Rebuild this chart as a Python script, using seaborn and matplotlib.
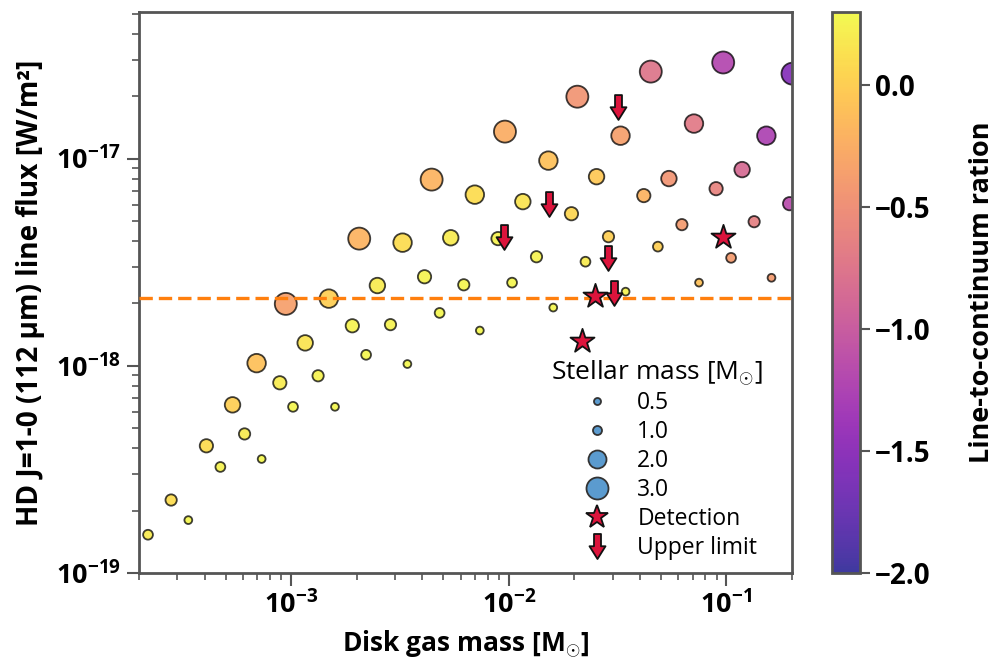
import numpy as np
import pandas as pd
import matplotlib
matplotlib.use("Agg")
import matplotlib.pyplot as plt
import seaborn as sns
from matplotlib.path import Path
from matplotlib.lines import Line2D
from matplotlib.colors import Normalize
from matplotlib.cm import ScalarMappable
from matplotlib.ticker import FuncFormatter, LogLocator, NullFormatter, FixedLocator

# ---------------- data ----------------
# model grid: one list per stellar mass [Msun]
stellar_masses = [0.5, 1.0, 1.25, 1.5, 1.75, 2.0, 3.0]

disk_mass = {
    0.5:  [3.37e-4, 7.32e-4, 1.59e-3, 3.42e-3, 7.36e-3, 1.60e-2, 3.44e-2, 7.48e-2, 1.61e-1],
    1.0:  [2.20e-4, 4.73e-4, 1.02e-3, 2.21e-3, 4.81e-3, 1.035e-2, 2.25e-2, 4.84e-2, 1.05e-1],
    1.25: [2.81e-4, 6.11e-4, 1.33e-3, 2.86e-3, 6.21e-3, 1.34e-2, 2.87e-2, 6.24e-2, 1.34e-1],
    1.5:  [4.08e-4, 8.87e-4, 1.91e-3, 4.10e-3, 8.92e-3, 1.94e-2, 4.17e-2, 8.96e-2, 1.95e-1],
    1.75: [5.38e-4, 1.16e-3, 2.49e-3, 5.41e-3, 1.16e-2, 2.53e-2, 5.44e-2, 1.18e-1],
    2.0:  [6.94e-4, 1.49e-3, 3.25e-3, 6.98e-3, 1.52e-2, 3.26e-2, 7.09e-2, 1.525e-1],
    3.0:  [9.45e-4, 2.055e-3, 4.42e-3, 9.60e-3, 2.065e-2, 4.49e-2, 9.66e-2, 2.01e-1],
}
line_flux = {
    0.5:  [1.80e-19, 3.55e-19, 6.34e-19, 1.02e-18, 1.48e-18, 1.91e-18, 2.28e-18, 2.52e-18, 2.66e-18],
    1.0:  [1.53e-19, 3.25e-19, 6.34e-19, 1.13e-18, 1.80e-18, 2.52e-18, 3.18e-18, 3.76e-18, 3.32e-18],
    1.25: [2.25e-19, 4.69e-19, 8.95e-19, 1.58e-18, 2.46e-18, 3.36e-18, 4.20e-18, 4.80e-18, 4.96e-18],
    1.5:  [4.11e-19, 8.28e-19, 1.56e-18, 2.69e-18, 4.11e-18, 5.42e-18, 6.63e-18, 7.16e-18, 6.06e-18],
    1.75: [6.48e-19, 1.29e-18, 2.44e-18, 4.15e-18, 6.20e-18, 8.18e-18, 8.01e-18, 8.85e-18],
    2.0:  [1.03e-18, 2.11e-18, 3.93e-18, 6.70e-18, 9.78e-18, 1.29e-17, 1.476e-17, 1.29e-17],
    3.0:  [1.99e-18, 4.11e-18, 7.92e-18, 1.35e-17, 1.99e-17, 2.63e-17, 2.91e-17, 2.57e-17],
}
line_to_continuum = {
    0.5:  [0.27, 0.28, 0.28, 0.28, 0.28, 0.27, 0.25, -0.10, -0.40],
    1.0:  [0.20, 0.25, 0.27, 0.27, 0.27, 0.27, 0.20, 0.00, -0.40],
    1.25: [0.10, 0.20, 0.25, 0.25, 0.27, 0.25, 0.00, -0.40, -0.65],
    1.5:  [0.10, 0.20, 0.25, 0.25, 0.25, 0.05, -0.20, -0.60, -1.15],
    1.75: [0.00, 0.15, 0.20, 0.20, 0.15, -0.05, -0.45, -0.85],
    2.0:  [-0.10, 0.00, 0.10, 0.10, -0.10, -0.35, -0.70, -1.25],
    3.0:  [-0.35, -0.20, -0.20, -0.25, -0.45, -0.75, -1.20, -1.55],
}

# observations
det_mass = [2.50e-2, 2.18e-2, 9.66e-2]
det_flux = [2.18e-18, 1.32e-18, 4.20e-18]
ul_mass = [9.50e-3, 1.53e-2, 2.87e-2, 3.05e-2, 3.16e-2]
ul_flux = [4.20e-18, 6.06e-18, 3.32e-18, 2.25e-18, 1.78e-17]

sensitivity = 2.13e-18
legend_masses = [0.5, 1.0, 2.0, 3.0]
x_ticks = [1e-3, 1e-2, 1e-1]
y_ticks = [1e-19, 1e-18, 1e-17]
cbar_ticks = [0.0, -0.5, -1.0, -1.5, -2.0]
cbar_ticklabels = ["0.0", "−0.5", "−1.0", "−1.5", "−2.0"]

# ---------------- styling ----------------
sns.set_theme(style="ticks")
plt.rcParams["font.family"] = ["Open Sans", "DejaVu Sans"]
plt.rcParams["mathtext.fontset"] = "custom"
plt.rcParams["mathtext.rm"] = "Open Sans"
plt.rcParams["mathtext.bf"] = "Open Sans:bold"
for k in ["text.color", "axes.labelcolor", "xtick.labelcolor", "ytick.labelcolor"]:
    plt.rcParams[k] = "black"

rows = []
for m in stellar_masses:
    for xm, fl, r in zip(disk_mass[m], line_flux[m], line_to_continuum[m]):
        rows.append({"mdisk": xm, "flux": fl, "mstar": m, "ratio": r})
df = pd.DataFrame(rows)

def s_of(d_px):
    return (d_px / (100 / 72)) ** 2

size_map = {0.5: s_of(7.8), 1.0: s_of(9.8), 1.25: s_of(11.3), 1.5: s_of(13.3),
            1.75: s_of(15.5), 2.0: s_of(18.5), 3.0: s_of(22)}

fig = plt.figure(figsize=(10.03, 6.66), dpi=100)
ax = fig.add_axes([139 / 1003, 1 - 573 / 666, 653 / 1003, 561 / 666])
cax = fig.add_axes([832 / 1003, 1 - 573 / 666, 28 / 1003, 561 / 666])

norm = Normalize(vmin=-2.0, vmax=0.3)
ALPHA = 0.75

sns.scatterplot(data=df, x="mdisk", y="flux", hue="ratio", size="mstar",
                sizes=size_map, palette="plasma", hue_norm=norm,
                edgecolor="black", linewidth=1.3, alpha=ALPHA,
                legend=False, ax=ax, zorder=2)

ax.set_xscale("log")
ax.set_yscale("log")
ax.set_xlim(2e-4, 0.2)
ax.set_ylim(1e-19, 5.1e-17)

ax.axhline(sensitivity, color="#ff7f0e", lw=2.4, ls=(0, (4, 1.8)), zorder=3)

# upper-limit arrow marker
arrow = Path([(-0.28, 1.0), (0.28, 1.0), (0.28, 0.02), (0.64, 0.02), (0.0, -1.0),
              (-0.64, 0.02), (-0.28, 0.02), (-0.28, 1.0)],
             [Path.MOVETO] + [Path.LINETO] * 6 + [Path.CLOSEPOLY])

sns.scatterplot(x=det_mass, y=det_flux, marker="*", s=330, color="crimson",
                edgecolor="#111111", linewidth=1.3, ax=ax, zorder=5, legend=False)
sns.scatterplot(x=ul_mass, y=ul_flux, marker=arrow, s=320, color="crimson",
                edgecolor="#111111", linewidth=1.3, ax=ax, zorder=5, legend=False)

# axes cosmetics
spine_col = "#555555"
for sp in ax.spines.values():
    sp.set_visible(True)
    sp.set_color(spine_col)
    sp.set_linewidth(2)
ax.tick_params(which="major", direction="out", length=9, width=1.5, color=spine_col,
               labelcolor="black", labelsize=19.5, pad=4, top=False, right=False)
ax.tick_params(which="minor", direction="out", length=5, width=1.2, color=spine_col,
               top=False, right=False)
fmt = FuncFormatter(lambda v, p: r"$\mathbf{10^{%d}}$" % int(round(np.log10(v))))
ax.xaxis.set_major_locator(FixedLocator(x_ticks))
ax.yaxis.set_major_locator(FixedLocator(y_ticks))
ax.xaxis.set_minor_locator(LogLocator(base=10, subs=np.arange(2, 10), numticks=20))
ax.yaxis.set_minor_locator(LogLocator(base=10, subs=np.arange(2, 10), numticks=20))
ax.xaxis.set_major_formatter(fmt)
ax.yaxis.set_major_formatter(fmt)
ax.xaxis.set_minor_formatter(NullFormatter())
ax.yaxis.set_minor_formatter(NullFormatter())

ax.set_xlabel(r"Disk gas mass [M$_{\odot}$]", fontsize=19, fontweight="bold",
              labelpad=6, color="black")
ax.set_ylabel("HD J=1-0 (112 μm) line flux [W/m²]", fontsize=20.2, fontweight="bold",
              labelpad=8, color="black")

# colorbar
sm = ScalarMappable(norm=norm, cmap="plasma")
cb = fig.colorbar(sm, cax=cax, alpha=0.8)
cb.set_ticks(cbar_ticks)
cb.set_ticklabels(cbar_ticklabels)
cb.outline.set_edgecolor(spine_col)
cb.outline.set_linewidth(2)
cax.tick_params(direction="out", length=7, width=1.5, color=spine_col,
                labelcolor="black", labelsize=20)
for t in cax.get_yticklabels():
    t.set_fontweight("bold")
cb.set_label("Line-to-continuum ration", fontsize=19.5, fontweight="bold",
             labelpad=28, color="black")

# legend (title as separate text so entries can be placed like the reference)
leg_col = "#5b9bcf"
handles = []
labels = []
for m, d in zip(legend_masses, [7, 9, 18, 22]):
    handles.append(Line2D([], [], ls="", marker="o", markersize=d / (100 / 72),
                          markerfacecolor=leg_col, markeredgecolor="#333333",
                          markeredgewidth=1.3))
    labels.append(f"{m:.1f}")
handles.append(Line2D([], [], ls="", marker="*", markersize=17, markerfacecolor="crimson",
                      markeredgecolor="#111111", markeredgewidth=1.3))
labels.append("Detection")
handles.append(Line2D([], [], ls="", marker=arrow, markersize=18, markerfacecolor="crimson",
                      markeredgecolor="#111111", markeredgewidth=1.3))
labels.append("Upper limit")
leg = ax.legend(handles, labels, loc="center left",
                bbox_to_anchor=((580 - 139) / 653, (573 - 475.5) / 561),
                frameon=False, fontsize=16.5, labelspacing=0.22, handletextpad=1.0,
                handlelength=1.5, borderpad=0, borderaxespad=0)
ax.text((657 - 139) / 653, (573 - 373) / 561, r"Stellar mass [M$_{\odot}$]",
        transform=ax.transAxes, ha="center", va="center", fontsize=19, color="black")

fig.savefig("out.png", dpi=100)
